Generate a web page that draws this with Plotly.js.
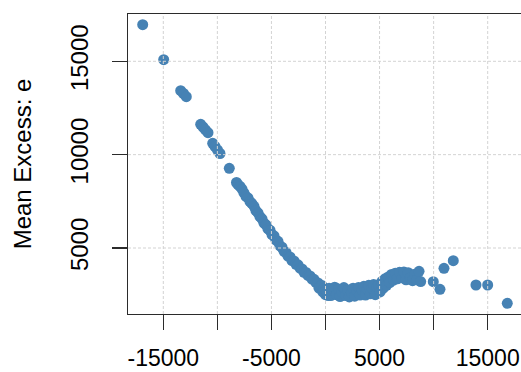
<!DOCTYPE html>
<html>
<head>
<meta charset="utf-8">
<script src="https://cdn.plot.ly/plotly-3.0.1.min.js"></script>
<style>
html,body{margin:0;padding:0;background:#fff;overflow:hidden;width:521px;height:372px;}
#chart{width:540px;height:372px;}
</style>
</head>
<body>
<div id="chart"></div>
<script>
// Thresholds (x) and mean excess values (y)
var threshold = [
  -16905, -14963,
  -13391, -13132, -12873,
  -11542, -11329, -11098, -10867,
  -10432, -10219, -9988, -9757,
  -8897,
  -8231, -8090, -7900, -7720, -7540, -7350, -7170, -6980, -6800, -6610,
  -6430, -6240, -6060, -5870, -5690, -5500, -5320, -5130, -4950, -4760,
  -4580, -4390, -4210, -4020, -3840, -3650, -3470, -3280, -3100, -2910,
  -2730, -2540, -2360, -2170, -1990, -1800, -1620, -1430, -1250, -1060,
  -880, -690, -600, -510, -320, -250, -140, 0, 50, 250,
  150, 330, 500, 700, 850, 1000, 1200, 1350, 1500, 1700, 1850, 2050, 2200,
  2400, 2550, 2700, 2900, 3050, 3200, 3400, 3550, 3700, 3850, 4000, 4150,
  4300, 4450, 4600, 4750,
  4900, 5050, 5200, 5350, 5500, 5650, 5800, 5950, 6100, 6300, 6450, 6650,
  6850, 7050, 7250, 7450, 7650, 7850, 8050, 8250, 8450, 8650, 8800,
  9967, 10587, 10957, 11817, 13915, 14997, 16810
];
var meanExcess = [
  16960, 15086,
  13425, 13275, 13104,
  11626, 11481, 11331, 11176,
  10608, 10437, 10249, 10062,
  9269,
  8508, 8400, 8300, 8150, 7950, 7760, 7680, 7480, 7380, 7230,
  7000, 6880, 6680, 6560, 6330, 6240, 6020, 5950, 5720, 5650,
  5420, 5360, 5110, 5040, 4820, 4760, 4560, 4520, 4330, 4310,
  4130, 4100, 3920, 3880, 3700, 3690, 3530, 3500, 3330, 3320,
  3150, 3130, 2850, 2960, 2990, 2650, 2830, 2500, 2750, 2450,
  2600, 2850, 2450, 2700, 2900, 2500, 2800, 2400, 2650, 2880, 2450, 2750, 2380,
  2600, 2850, 2420, 2700, 2880, 2480, 2750, 2950, 2480, 2800, 3000, 2550,
  2850, 3050, 2500, 2900,
  3020, 2650, 3200, 2850, 3350, 3000, 3450, 3150, 3580, 3280, 3650, 3350,
  3700, 3400, 3720, 3300, 3680, 3400, 3250, 3600, 3300, 3750, 3200,
  3196, 2788, 3913, 4320, 3018, 3018, 2039
];

var xTickVals = [-15000, -10000, -5000, 0, 5000, 10000, 15000];
var xTickText = ['-15000', '', '-5000', '', '5000', '', '15000'];
var yTickVals = [5000, 10000, 15000];
var yTickText = ['5000', '10000', '15000'];
var yTitle = 'Mean Excess: e';

var font = {family: '"Liberation Sans", Arial, sans-serif', size: 24, color: '#000'};
var xTickFont = {family: '"Liberation Sans", Arial, sans-serif', size: 23, color: '#000'};
var axisColor = '#2b2b2b';
var gridStyle = {color: '#d3d3d3', width: 1, dash: '3px,2px'};

var shapes = [];
xTickVals.forEach(function (v) {
  shapes.push({type: 'line', xref: 'x', yref: 'paper', x0: v, x1: v, y0: 0, y1: 1,
               line: gridStyle, layer: 'above'});
});
yTickVals.forEach(function (v) {
  shapes.push({type: 'line', xref: 'paper', yref: 'y', x0: 0, x1: 1, y0: v, y1: v,
               line: gridStyle, layer: 'above'});
});

var trace = {
  type: 'scatter',
  mode: 'markers',
  x: threshold,
  y: meanExcess,
  marker: {color: '#4682B4', size: 11, line: {width: 0}},
  hoverinfo: 'x+y'
};

var layout = {
  width: 540,
  height: 372,
  margin: {l: 128, r: 17, t: 14, b: 58, pad: 0},
  paper_bgcolor: '#fff',
  plot_bgcolor: '#fff',
  font: font,
  showlegend: false,
  shapes: shapes,
  xaxis: {
    range: [-18264, 18264],
    tickmode: 'array',
    tickvals: xTickVals,
    ticktext: xTickText,
    ticks: 'outside',
    ticklen: 15,
    tickwidth: 1.3,
    tickcolor: axisColor,
    showline: true,
    linecolor: axisColor,
    linewidth: 1.3,
    mirror: true,
    showgrid: false,
    zeroline: false,
    tickfont: xTickFont,
    ticklabeloverflow: 'allow',
    ticklabelstandoff: 8
  },
  yaxis: {
    range: [1465, 17533],
    tickmode: 'array',
    tickvals: yTickVals,
    ticktext: yTickText,
    tickangle: -90,
    ticks: 'outside',
    ticklen: 15,
    tickwidth: 1.3,
    tickcolor: axisColor,
    showline: true,
    linecolor: axisColor,
    linewidth: 1.3,
    mirror: true,
    showgrid: false,
    zeroline: false,
    tickfont: font,
    ticklabelstandoff: 14,
    title: {text: yTitle, font: font, standoff: 27}
  }
};

Plotly.newPlot('chart', [trace], layout, {displayModeBar: false, staticPlot: true});
</script>
</body>
</html>
